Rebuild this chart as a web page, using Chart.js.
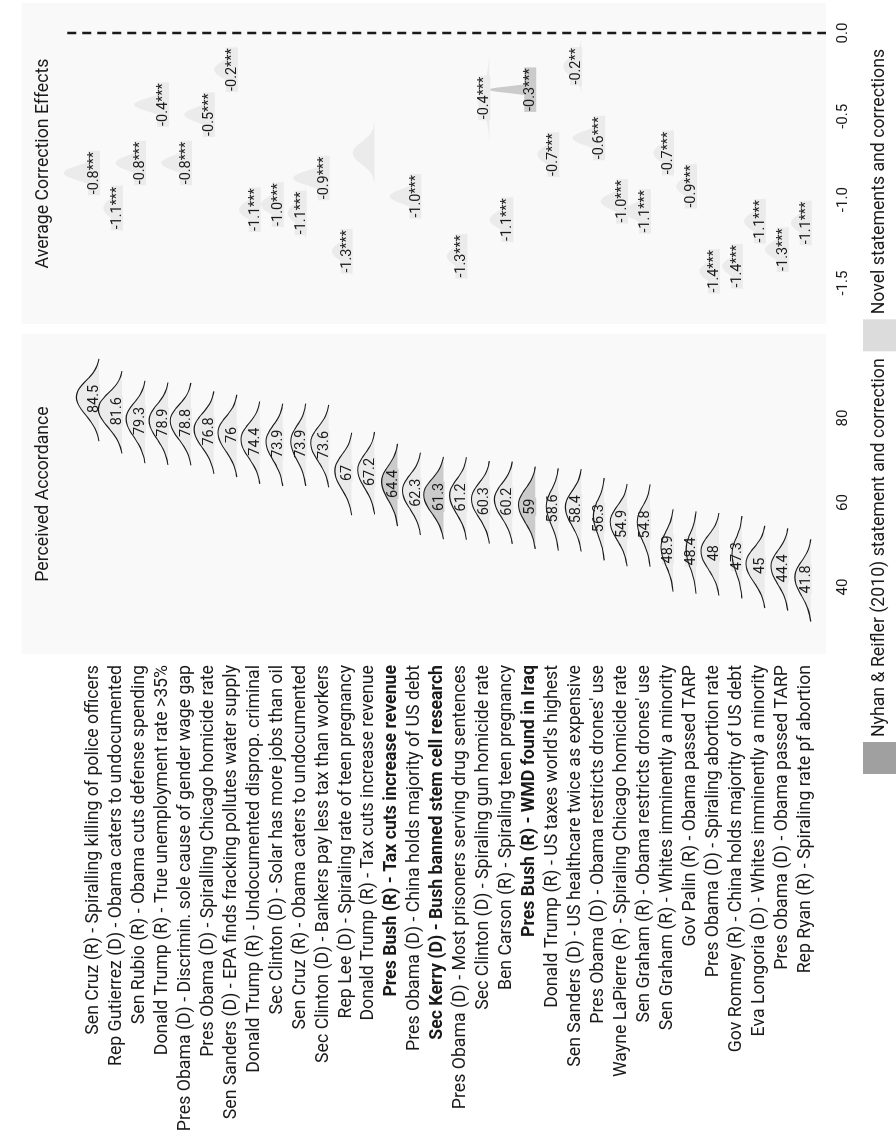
<!DOCTYPE html>
<html><head><meta charset="utf-8">
<script src="https://cdn.jsdelivr.net/npm/chart.js@4.4.1/dist/chart.umd.min.js"></script>
<style>
html,body{margin:0;padding:0;background:#fff;overflow:hidden;width:896px;height:1136px;}
#wrap{position:absolute;left:0;top:0;width:1136px;height:896px;transform-origin:0 0;transform:translate(0,1136px) rotate(-90deg);}
canvas{display:block;}
</style></head><body>
<div id="wrap"><canvas id="c" width="1136" height="896"></canvas></div>
<script>
// ---------------- DATA ----------------
const statements = [
  "Sen Cruz (R) - Spiralling killing of police officers",
  "Rep Gutierrez (D) - Obama caters to undocumented",
  "Sen Rubio (R) - Obama cuts defense spending",
  "Donald Trump (R) - True unemployment rate >35%",
  "Pres Obama (D) - Discrimin. sole cause of gender wage gap",
  "Pres Obama (D) - Spiralling Chicago homicide rate",
  "Sen Sanders (D) - EPA finds fracking pollutes water supply",
  "Donald Trump (R) - Undocumented disprop. criminal",
  "Sec Clinton (D) - Solar has more jobs than oil",
  "Sen Cruz (R) - Obama caters to undocumented",
  "Sec Clinton (D) - Bankers pay less tax than workers",
  "Rep Lee (D) - Spiraling rate of teen pregnancy",
  "Donald Trump (R) - Tax cuts increase revenue",
  "Pres Bush (R) - Tax cuts increase revenue",
  "Pres Obama (D) - China holds majority of US debt",
  "Sec Kerry (D) - Bush banned stem cell research",
  "Pres Obama (D) - Most prisoners serving drug sentences",
  "Sec Clinton (D) - Spiraling gun homicide rate",
  "Ben Carson (R) - Spiraling teen pregnancy",
  "Pres Bush (R) - WMD found in Iraq",
  "Donald Trump (R) - US taxes world's highest",
  "Sen Sanders (D) - US healthcare twice as expensive",
  "Pres Obama (D) - Obama restricts drones' use",
  "Wayne LaPierre (R) - Spiraling Chicago homicide rate",
  "Sen Graham (R) - Obama restricts drones' use",
  "Sen Graham (R) - Whites imminently a minority",
  "Gov Palin (R) - Obama passed TARP",
  "Pres Obama (D) - Spiraling abortion rate",
  "Gov Romney (R) - China holds majority of US debt",
  "Eva Longoria (D) - Whites imminently a minority",
  "Pres Obama (D) - Obama passed TARP",
  "Rep Ryan (R) - Spiraling rate pf abortion"
];
// indices of the Nyhan & Reifler (2010) statement/correction items
const nyhanReifler = [13, 15, 19];

// Perceived accordance: mean value and relative density peak height
const accordance = [84.5, 81.6, 79.3, 78.9, 78.8, 76.8, 76, 74.4, 73.9, 73.9, 73.6, 67, 67.2, 64.4, 62.3, 61.3,
                    61.2, 60.3, 60.2, 59, 58.6, 58.4, 56.3, 54.9, 54.8, 48.9, 48.4, 48, 47.3, 45, 44.4, 41.8];
const accordancePeak = [0.99, 1.03, 0.82, 0.82, 0.9, 0.86, 0.82, 0.82, 0.73, 0.65, 0.78, 0.73, 0.73, 0.69, 0.78, 0.86,
                        0.73, 0.78, 0.78, 0.73, 0.52, 0.69, 0.47, 0.73, 0.56, 0.52, 0.43, 0.78, 0.43, 0.82, 0.73, 0.69];
// shared density profile (offset from mean, relative height)
const accordProfileOffset = [-10, -8.5, -7, -5.5, -4, -2.5, -1, 0.5, 2, 3.5, 5, 6.5, 8, 9.5];
const accordProfileHeight = [0.0, 0.07, 0.18, 0.35, 0.56, 0.78, 0.94, 1.0, 0.93, 0.72, 0.45, 0.22, 0.08, 0.0];

// Average correction effects (null = not shown)
const correction = [-0.84, -1.05, -0.78, -0.43, -0.78, -0.49, -0.22, -1.06, -1.03, -1.08, -0.87, -1.31, -0.72, null, -0.98, null,
                    -1.34, -0.39, -1.12, -0.34, -0.73, -0.20, -0.63, -1.01, -1.07, -0.72, -0.92, -1.43, -1.40, -1.13, -1.30, -1.14];
const correctionLabels = ["-0.8***", "-1.1***", "-0.8***", "-0.4***", "-0.8***", "-0.5***", "-0.2***", "-1.1***", "-1.0***", "-1.1***",
                          "-0.9***", "-1.3***", "", "", "-1.0***", "", "-1.3***", "-0.4***", "-1.1***", "-0.3***", "-0.7***", "-0.2**",
                          "-0.6***", "-1.0***", "-1.1***", "-0.7***", "-0.9***", "-1.4***", "-1.4***", "-1.1***", "-1.3***", "-1.1***"];
const correctionPeak = [1.55, 0.82, 1.29, 1.47, 1.29, 1.29, 0.99, 0.91, 0.95, 0.78, 1.55, 0.86, 0.95, null, 1.34, null,
                        0.86, 0.34, 0.99, 2.03, 0.91, 0.78, 1.38, 1.16, 1.16, 0.86, 0.86, 0.86, 0.86, 0.91, 0.99, 0.86];
const correctionSpread = [0.05, 0.065, 0.05, 0.045, 0.05, 0.05, 0.06, 0.06, 0.06, 0.065, 0.05, 0.06, 0.075, null, 0.05, null,
                          0.06, 0.11, 0.06, 0.022, 0.06, 0.065, 0.05, 0.055, 0.055, 0.06, 0.06, 0.06, 0.06, 0.06, 0.06, 0.06];
const corrProfileOffset = [-2.5, -2, -1.5, -1, -0.5, 0, 0.5, 1, 1.5, 2, 2.5];
const corrProfileHeight = [0.0, 0.06, 0.22, 0.52, 0.86, 1.0, 0.86, 0.52, 0.22, 0.06, 0.0];

const accordanceTicks = [40, 60, 80];
const correctionTicks = [-1.5, -1.0, -0.5, 0.0];
const panelTitles = ["Perceived Accordance", "Average Correction Effects"];
const legendLabels = ["Nyhan & Reifler (2010) statement and correction", "Novel statements and corrections"];

// ---------------- STYLE ----------------
const FONT = 'Roboto, "Noto Sans", sans-serif';
const BASE_SIZE = 17.7, VALUE_SIZE = 14.4, TICK_SIZE = 15;
const LIGHT_FILL = '#ebebeb', DARK_FILL = '#cbcbcb';
const LEGEND_DARK = '#a0a0a0', LEGEND_LIGHT = '#dcdcdc';
const PANEL_BG = '#f9f9f9', PANEL_GAP = 10;
const TEXT = '#1a1a1a';
const BASE_OFF = 0.24;         // ridge baseline offset below the category tick (row units)
const DASH_START = -1.15;      // reference line starts just below the panel title

const isNR = i => nyhanReifler.includes(i);
const datasets = [];
statements.forEach((s, i) => {
  const base = i + BASE_OFF;
  datasets.push({
    label: s, xAxisID: 'x', yAxisID: 'y',
    data: accordProfileOffset.map((o, k) => ({x: accordance[i] + o, y: base - accordancePeak[i] * accordProfileHeight[k]})),
    borderColor: TEXT, borderWidth: 1.1, pointRadius: 0, pointHoverRadius: 0,
    backgroundColor: isNR(i) ? DARK_FILL : LIGHT_FILL,
    fill: {value: base}, cubicInterpolationMode: 'monotone', order: -i
  });
});
statements.forEach((s, i) => {
  if (correction[i] === null) return;
  const base = i + BASE_OFF;
  datasets.push({
    label: s + ' (correction)', xAxisID: 'x2', yAxisID: 'y',
    data: corrProfileOffset.map((o, k) => ({x: correction[i] + o * correctionSpread[i], y: base - correctionPeak[i] * corrProfileHeight[k]})),
    borderColor: 'rgba(0,0,0,0)', borderWidth: 0, pointRadius: 0, pointHoverRadius: 0,
    backgroundColor: isNR(i) ? DARK_FILL : LIGHT_FILL,
    fill: {value: base}, cubicInterpolationMode: 'monotone', order: -i
  });
});
const Y_MIN = -3.134, Y_MAX = 31.905;
datasets.push({
  label: 'zero', xAxisID: 'x2', yAxisID: 'y',
  data: [{x: 0, y: DASH_START}, {x: 0, y: Y_MAX}],
  borderColor: TEXT, borderWidth: 2.5, borderDash: [9, 6], pointRadius: 0, fill: false, order: -1000
});

function drawTag(ctx, text, cx, by, bg) {
  if (!text) return;
  ctx.font = `${VALUE_SIZE}px ${FONT}`;
  const w = ctx.measureText(text).width;
  ctx.fillStyle = bg;
  ctx.fillRect(cx - w / 2 - 1, by - 11, w + 2, 12);
  ctx.fillStyle = TEXT; ctx.textAlign = 'center'; ctx.textBaseline = 'middle';
  ctx.fillText(text, cx, by - 4.5);
}

const panelPlugin = {
  id: 'panels',
  beforeDraw(chart) {
    const {ctx, chartArea: a, scales: {x, x2}} = chart;
    ctx.save();
    ctx.fillStyle = PANEL_BG;
    ctx.fillRect(x.left, a.top, x.right - PANEL_GAP / 2 - x.left, a.bottom - a.top);
    ctx.fillRect(x2.left + PANEL_GAP / 2, a.top, x2.right - x2.left - PANEL_GAP / 2, a.bottom - a.top);
    ctx.fillStyle = TEXT; ctx.font = `${BASE_SIZE}px ${FONT}`; ctx.textAlign = 'center'; ctx.textBaseline = 'middle';
    ctx.fillText(panelTitles[0], (x.left + x.right - PANEL_GAP / 2) / 2, a.top + 22);
    ctx.fillText(panelTitles[1], (x2.left + PANEL_GAP / 2 + x2.right) / 2, a.top + 22);
    ctx.restore();
  },
  beforeDatasetsDraw(chart) {
    const {ctx, scales: {x, x2, y}} = chart;
    ctx.save();
    statements.forEach((s, i) => {
      const by = y.getPixelForValue(i + BASE_OFF);
      const bg = isNR(i) ? DARK_FILL : LIGHT_FILL;
      drawTag(ctx, String(accordance[i]), x.getPixelForValue(accordance[i]), by, bg);
      if (correction[i] !== null) drawTag(ctx, correctionLabels[i], x2.getPixelForValue(correction[i]), by, bg);
    });
    ctx.restore();
  },
  afterDraw(chart) {
    const {ctx} = chart;
    ctx.save();
    ctx.font = `${BASE_SIZE}px ${FONT}`; ctx.textBaseline = 'middle'; ctx.textAlign = 'left';
    let lx = 362; const ly = 863, box = 32;
    [LEGEND_DARK, LEGEND_LIGHT].forEach((c, k) => {
      ctx.fillStyle = c; ctx.fillRect(lx, ly, box, box + 2);
      lx += box + 5;
      ctx.fillStyle = TEXT; ctx.fillText(legendLabels[k], lx, ly + 17);
      lx += ctx.measureText(legendLabels[k]).width + 7;
    });
    ctx.restore();
  }
};

const tickFont = {family: FONT, size: TICK_SIZE};
new Chart(document.getElementById('c'), {
  type: 'line',
  data: {datasets},
  options: {
    responsive: false, animation: false, devicePixelRatio: 1,
    layout: {padding: {left: 6, right: 3, top: 13, bottom: 40}},
    plugins: {legend: {display: false}, tooltip: {enabled: false}, filler: {drawTime: 'beforeDatasetsDraw'}},
    scales: {
      x: {
        type: 'linear', position: 'bottom', stack: 'panels', stackWeight: 325, min: 24.14, max: 101.06,
        grid: {display: false, drawTicks: false}, border: {display: false},
        afterBuildTicks: s => { s.ticks = accordanceTicks.map(v => ({value: v})); },
        ticks: {padding: 8, font: tickFont, color: TEXT, callback: v => String(v)},
        afterFit: s => { s.height = 30; }
      },
      x2: {
        type: 'linear', position: 'bottom', stack: 'panels', stackWeight: 326, min: -1.776, max: 0.18,
        grid: {display: false, drawTicks: false}, border: {display: false},
        afterBuildTicks: s => { s.ticks = correctionTicks.map(v => ({value: v})); },
        ticks: {padding: 8, font: tickFont, color: TEXT, callback: v => Number(v).toFixed(1)},
        afterFit: s => { s.height = 30; }
      },
      y: {
        type: 'linear', reverse: true, min: Y_MIN, max: Y_MAX,
        grid: {display: false, drawTicks: false}, border: {display: false},
        afterBuildTicks: s => { s.ticks = statements.map((_, i) => ({value: i})); },
        ticks: {
          autoSkip: false, padding: 11, color: TEXT,
          callback: v => statements[v],
          font: ctx => ({family: FONT, size: BASE_SIZE, weight: (ctx.tick && isNR(ctx.tick.value)) ? 'bold' : 'normal'})
        },
        afterFit: s => { s.width = 476; }
      }
    }
  },
  plugins: [panelPlugin]
});
</script>
</body></html>
